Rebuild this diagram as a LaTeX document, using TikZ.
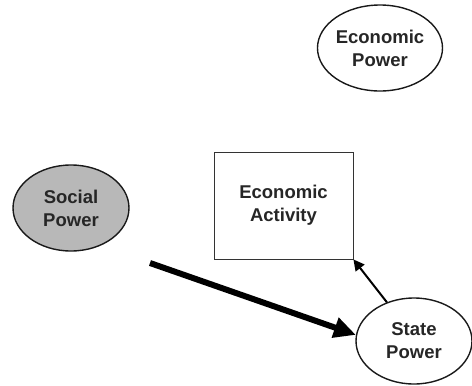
\documentclass[tikz,border=0pt]{standalone}
\usepackage{fontspec}
\setmainfont{Liberation Sans}
\usetikzlibrary{arrows.meta,shapes.geometric}
\begin{document}
\begin{tikzpicture}[x=1pt,y=-1pt,
  every node/.style={font=\fontsize{18.5}{23}\selectfont\bfseries, align=center, text=black!85},
  oval/.style={ellipse, draw=black!90, line width=1.4pt, minimum width=116pt, minimum height=86pt, inner sep=0pt},
  boxnode/.style={rectangle, draw=black!80, line width=0.8pt, minimum width=139pt, minimum height=107pt, inner sep=0pt}]
\useasboundingbox (0,0) rectangle (472,386);
\node[oval] (ep) at (380,48) {Economic\\Power};
\node[oval, fill=black!28] (sp) at (71,208) {Social\\Power};
\node[boxnode] (ea) at (283.5,205.5) {Economic\\Activity};
\node[oval] (st) at (414,341) {State\\Power};
\coordinate (a0) at (150,263);
\draw[line width=6pt, -{Triangle[length=22pt,width=20pt]}] (a0) -- (st.174);
\draw[line width=2pt, -{Triangle[length=11pt,width=11pt]}] (st.125) -- (ea.south east);
\end{tikzpicture}
\end{document}
